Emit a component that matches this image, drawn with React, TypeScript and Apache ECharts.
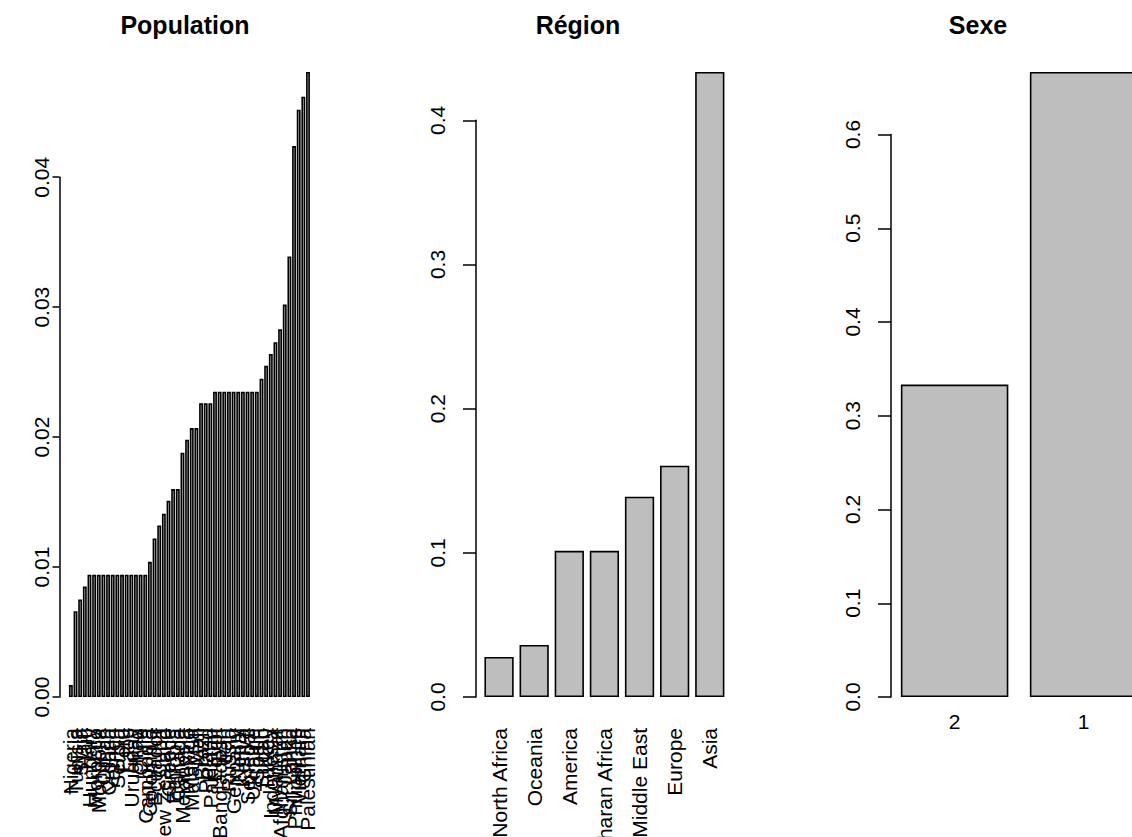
import React, { useEffect, useRef } from "react";
import * as echarts from "echarts";

// ---------- data ----------
const popCountries = [
  "Nigeria", "Tunisia", "Syria", "Haiti", "Hungary", "Morocco", "Mongolia", "Oman",
  "Croatia", "Yemen", "Serbia", "Peru", "Laos", "Uruguay", "Iraq", "Chile",
  "Cambodia", "Colombia", "Ecuador", "Cuba", "New Zealand", "Greece", "Ethiopia", "Canada",
  "Melanesia", "Mexico", "Malaysia", "Mali", "Brazil", "Poland", "Pakistan", "Egypt",
  "Bangladesh", "Iran", "Russia", "Germany", "Nepal", "Kenya", "Senegal", "Ukraine",
  "Spain", "Sudan", "Turkey", "Indonesia", "Myanmar", "Afghanistan", "Japan", "Sri Lanka",
  "Philippines", "Vietnam", "China", "Palestinian",
];
const popValues = [
  0.00092, 0.0066, 0.0075, 0.0085,
  0.0094, 0.0094, 0.0094, 0.0094, 0.0094, 0.0094, 0.0094, 0.0094, 0.0094, 0.0094, 0.0094, 0.0094, 0.0094,
  0.0104, 0.0122, 0.0132, 0.0141, 0.0151, 0.016, 0.016,
  0.0188, 0.0198, 0.0207, 0.0207,
  0.0226, 0.0226, 0.0226,
  0.0235, 0.0235, 0.0235, 0.0235, 0.0235, 0.0235, 0.0235, 0.0235, 0.0235, 0.0235,
  0.0245, 0.0255, 0.0264, 0.0273, 0.0283, 0.0302, 0.0339, 0.0424, 0.0452, 0.0462, 0.0481,
];
const regionNames = ["North Africa", "Oceania", "America", "Sub-Saharan Africa", "Middle East", "Europe", "Asia"];
const regionValues = [0.0278, 0.0361, 0.1014, 0.1014, 0.1389, 0.1604, 0.4335];
const sexNames = ["2", "1"];
const sexValues = [0.3333, 0.6667];

const popTickStep = 0.01;
const regionTickStep = 0.1;
const sexTickStep = 0.1;

// ---------- layout ----------
const FONT = "'Liberation Sans', Arial, Helvetica, sans-serif";
const PLOT_TOP = 72;
const PLOT_BOTTOM = 697;
const LABEL_SIZE = 21;
const TITLE_SIZE = 25;

const panels = [
  { title: "Population", titleX: 185, cats: popCountries, vals: popValues, barsLeft: 69, barsRight: 310, axisX: 59.5, step: popTickStep, dec: 2, rotate: 90, catMargin: 31, tickLen: 7, labMargin: 8 },
  { title: "Région", titleX: 578, cats: regionNames, vals: regionValues, barsLeft: 485, barsRight: 725, axisX: 476, step: regionTickStep, dec: 1, rotate: 90, catMargin: 31, tickLen: 13, labMargin: 28 },
  { title: "Sexe", titleX: 978, cats: sexNames, vals: sexValues, barsLeft: 903, barsRight: 1139.5, axisX: 891, step: sexTickStep, dec: 1, rotate: 0, catMargin: 14, tickLen: 13, labMargin: 28 },
];

export default function App() {
  const ref = useRef<HTMLDivElement | null>(null);
  useEffect(() => {
    if (!ref.current) return;
    const chart = echarts.init(ref.current, null, { renderer: "svg" });
    const H = PLOT_BOTTOM - PLOT_TOP;
    const grid: any[] = [];
    const xAxis: any[] = [];
    const yAxis: any[] = [];
    const series: any[] = [];
    const graphic: any[] = [];
    panels.forEach((p, i) => {
      const n = p.cats.length;
      const pitch = (p.barsRight - p.barsLeft) / (n - 1 / 6);
      const gLeft = p.barsLeft - pitch * 0.1;
      const maxV = Math.max(...p.vals);
      const lastTick = Math.round(Math.floor(maxV / p.step + 1e-9) * p.step * 1e6) / 1e6;
      const axisH = H * (lastTick / maxV);
      grid.push({ left: gLeft, top: PLOT_TOP, width: pitch * n, height: H, containLabel: false, outerBoundsMode: "none" });
      grid.push({ left: p.axisX, top: PLOT_BOTTOM - axisH, width: 2, height: axisH, containLabel: false, outerBoundsMode: "none" });
      xAxis.push({
        type: "category", gridIndex: 2 * i, data: p.cats, boundaryGap: true,
        axisLine: { show: false }, axisTick: { show: false }, splitLine: { show: false },
        axisLabel: { interval: 0, rotate: p.rotate, margin: p.catMargin, fontSize: LABEL_SIZE, color: "#000", fontFamily: FONT, hideOverlap: false },
      });
      xAxis.push({ type: "value", gridIndex: 2 * i + 1, show: false, min: 0, max: 1 });
      yAxis.push({ type: "value", gridIndex: 2 * i, min: 0, max: maxV, show: false, splitLine: { show: false } });
      yAxis.push({
        type: "value", gridIndex: 2 * i + 1, min: 0, max: lastTick, interval: p.step,
        axisLine: { show: true, lineStyle: { color: "#000", width: 1.5 } },
        axisTick: { show: true, length: p.tickLen, lineStyle: { color: "#000", width: 1.5 } },
        splitLine: { show: false },
        axisLabel: {
          rotate: 90, margin: p.labMargin, fontSize: LABEL_SIZE, color: "#000", fontFamily: FONT,
          formatter: (v: number) => v.toFixed(p.dec),
        },
      });
      series.push({
        type: "bar", xAxisIndex: 2 * i, yAxisIndex: 2 * i, data: p.vals,
        barCategoryGap: "16.67%",
        itemStyle: { color: "#BEBEBE", borderColor: "#000", borderWidth: 1.6 },
        emphasis: { disabled: true },
      });
      graphic.push({
        type: "text", x: p.titleX, y: 25,
        style: { text: p.title, font: `bold ${TITLE_SIZE}px ${FONT}`, fill: "#000", align: "center", verticalAlign: "middle", textAlign: "center", textVerticalAlign: "middle" },
      });
    });
    chart.setOption({
      animation: false,
      backgroundColor: "#fff",
      grid, xAxis, yAxis, series, graphic,
    });
    return () => chart.dispose();
  }, []);
  return <div ref={ref} style={{ position: "absolute", left: 0, top: 0, width: 1132, height: 837 }} />;
}
